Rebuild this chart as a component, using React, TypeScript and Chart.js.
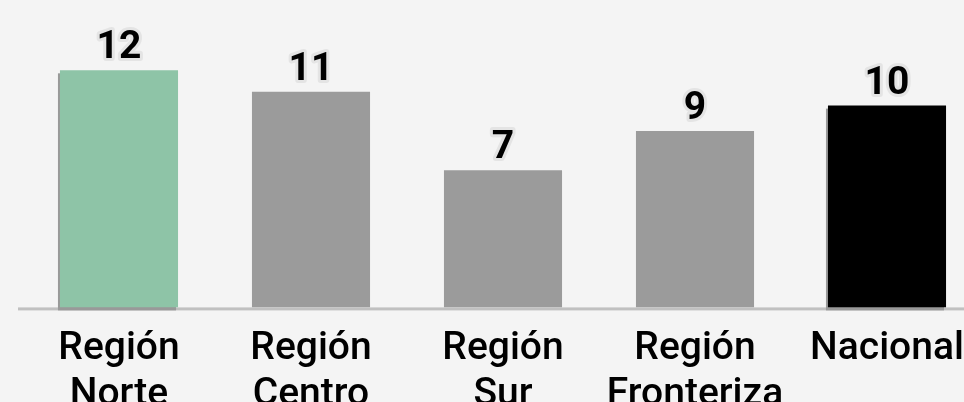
import React, { useEffect, useRef } from 'react';
import { Chart, registerables } from 'chart.js';

Chart.register(...registerables);

const categories: string[][] = [
  ['Región', 'Norte'],
  ['Región', 'Centro'],
  ['Región', 'Sur'],
  ['Región', 'Fronteriza'],
  ['Nacional'],
];
const values: number[] = [12.1, 11.0, 7.0, 9.0, 10.3];
const valueLabels: string[] = ['12', '11', '7', '9', '10'];
const barColors: string[] = ['#8ec4a7', '#9b9b9b', '#9b9b9b', '#9b9b9b', '#000000'];
const highlighted: boolean[] = [true, false, false, false, true];

const BG = '#f4f4f4';

const decorPlugin = {
  id: 'decor',
  beforeDatasetsDraw(chart: any) {
    const { ctx, chartArea } = chart;
    ctx.save();
    ctx.fillStyle = '#c0c0c0';
    ctx.fillRect(chartArea.left - 5, chartArea.bottom, chart.width, 3);
    const meta = chart.getDatasetMeta(0);
    meta.data.forEach((bar: any, i: number) => {
      if (!highlighted[i]) return;
      const w = bar.width;
      ctx.fillStyle = '#999999';
      ctx.fillRect(bar.x - w / 2 - 2, bar.y + 3, w, bar.base - bar.y);
    });
    ctx.restore();
  },
  afterDatasetsDraw(chart: any) {
    const { ctx } = chart;
    const meta = chart.getDatasetMeta(0);
    ctx.save();
    ctx.font = 'bold 39px Roboto';
    ctx.textAlign = 'center';
    ctx.textBaseline = 'alphabetic';
    ctx.lineJoin = 'round';
    meta.data.forEach((bar: any, i: number) => {
      const y = bar.y - 12;
      ctx.strokeStyle = '#e4e4e4';
      ctx.lineWidth = 6;
      ctx.strokeText(valueLabels[i], bar.x, y);
      ctx.fillStyle = '#000000';
      ctx.fillText(valueLabels[i], bar.x, y);
    });
    ctx.restore();
  },
};

export default function App() {
  const ref = useRef<HTMLCanvasElement | null>(null);

  useEffect(() => {
    document.body.style.margin = '0';
    document.body.style.background = BG;
    const canvas = ref.current!;
    const chart = new Chart(canvas, {
      type: 'bar',
      data: {
        labels: categories,
        datasets: [
          {
            data: values,
            backgroundColor: barColors,
            borderWidth: 0,
            categoryPercentage: 1,
            barPercentage: 0.615,
          },
        ],
      },
      options: {
        animation: false,
        responsive: false,
        maintainAspectRatio: false,
        layout: { padding: { left: 23, right: 7, top: 13.5, bottom: 7 } },
        plugins: {
          legend: { display: false },
          tooltip: { enabled: false },
        },
        scales: {
          x: {
            grid: { display: false, drawTicks: false },
            border: { display: false },
            ticks: {
              color: '#000000',
              padding: 18,
              font: { family: 'Roboto', size: 39, weight: 500, lineHeight: 1.2 },
              maxRotation: 0,
              autoSkip: false,
            },
          },
          y: {
            display: false,
            min: 0,
            max: 15,
          },
        },
      },
      plugins: [decorPlugin],
    });
    return () => chart.destroy();
  }, []);

  return (
    <div style={{ width: 964, height: 402, overflow: 'hidden', background: BG, position: 'relative' }}>
      <canvas ref={ref} width={990} height={444} style={{ display: 'block', width: 990, height: 444 }} />
    </div>
  );
}
